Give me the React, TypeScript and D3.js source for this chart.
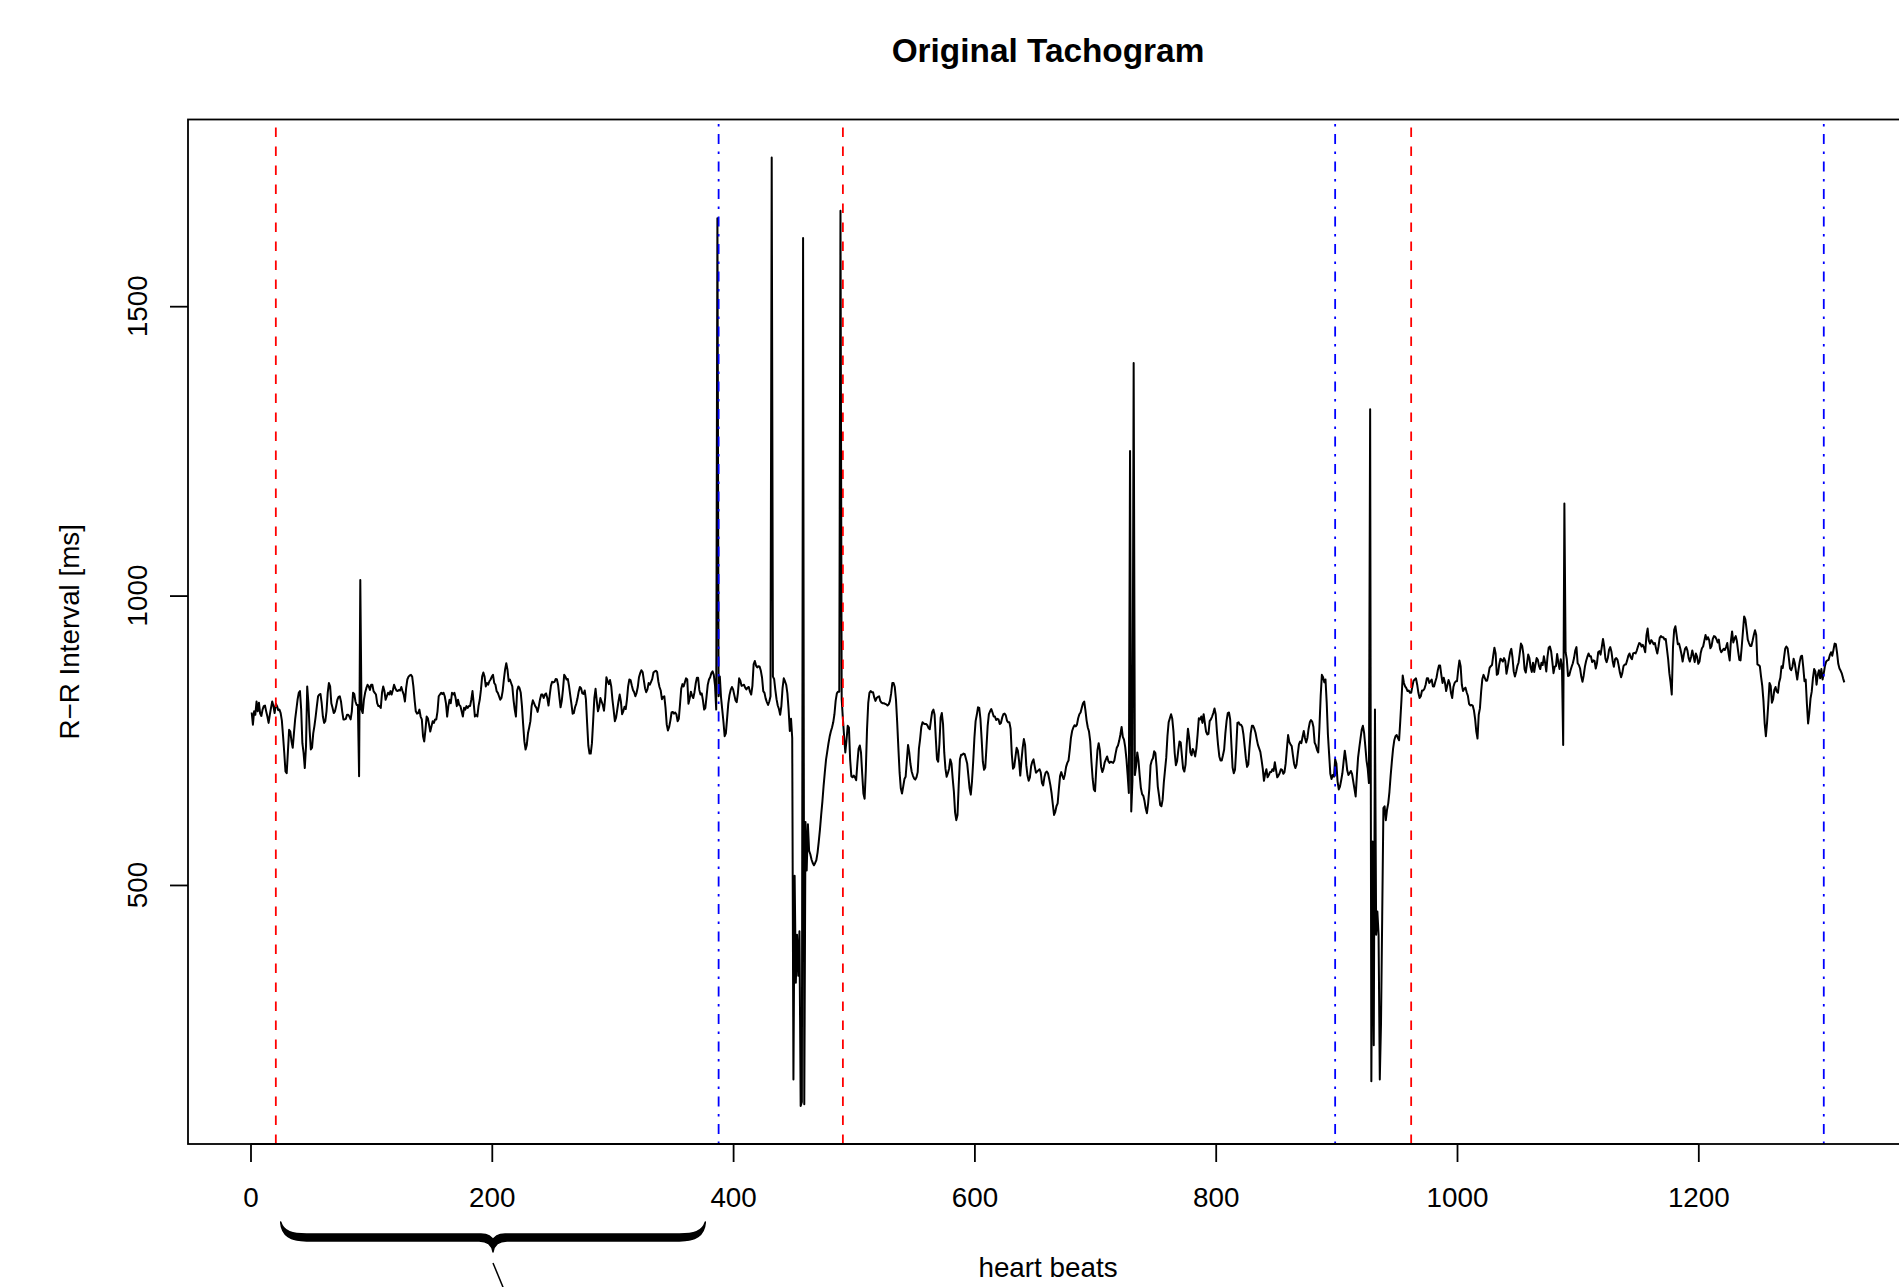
import React, { useEffect, useRef } from "react";
import * as d3 from "d3";

// R-R intervals [ms], one value per heart beat
const rrSeg1 = [
  798, 777, 800, 794, 817, 800, 815, 796, 792, 803,
  809, 810, 800, 791, 780, 794, 806, 817, 809, 797,
  813, 809, 802, 803, 797, 784, 757, 728, 696, 693,
  730, 768, 765, 748, 737, 762, 786, 803, 820, 832,
  835, 803, 745, 728, 702, 739, 843, 814, 768, 734,
  737, 762, 775, 791, 809, 826, 829, 830, 814, 791,
  780, 783, 800, 832, 849, 843, 814, 806, 797, 800,
  809, 820, 825, 826, 817, 800, 786, 786, 787, 794,
  794, 791, 786, 800, 832, 830, 817, 811, 811, 688,
  1027, 803, 797, 820, 832, 840, 846, 843, 837, 846,
  846, 835, 832, 829, 814, 809, 809, 806, 832, 843,
  835, 820, 826, 832, 829, 835, 829, 837, 846, 840,
  836, 835, 837, 836, 842, 835, 829, 817, 840, 855,
  860, 862, 863, 860, 843, 820, 800, 796, 797, 803,
  791, 786, 757, 748, 768, 791, 788, 777, 765, 774,
  783, 780, 786, 786, 800, 826, 829, 832, 830, 832,
  826, 814, 791, 809, 820, 814, 832, 829, 832, 823,
  809, 820, 811, 809, 800, 791, 806, 803, 809, 806,
  809, 809, 820, 835, 814, 791, 794, 791, 809, 820,
  837, 860, 867, 860, 843, 849, 846, 852, 855, 860,
  863, 849, 846, 835, 832, 826, 820, 823, 835, 855,
  872, 883, 872, 852, 855, 849, 843, 820, 803, 791,
];

const rrSeg2 = [
  836, 843, 840, 832, 809, 777, 748, 734, 742, 762,
  772, 783, 809, 819, 814, 809, 806, 799, 809, 821,
  829, 829, 823, 829, 831, 823, 810, 828, 844, 851,
  850, 851, 856, 855, 845, 825, 807, 818, 838, 863,
  860, 855, 856, 844, 828, 813, 796, 797, 807, 813,
  822, 834, 842, 840, 831, 830, 836, 821, 780, 741,
  727, 727, 745, 783, 823, 839, 818, 800, 808, 823,
  817, 811, 801, 824, 859, 852, 847, 854, 843, 820,
  802, 783, 789, 803, 817, 829, 817, 795, 800, 808,
  804, 820, 843, 855, 854, 845, 837, 833, 826, 832,
  842, 859, 866, 871, 868, 854, 840, 833, 838, 849,
  846, 851, 856, 867, 869, 870, 868, 852, 842, 836,
  821, 825, 826, 806, 777, 767, 773, 784, 798, 799,
  796, 798, 795, 783, 787, 812, 839, 847, 843, 850,
  857, 855, 813, 822, 834, 827, 823, 833, 848, 858,
  858, 837, 829, 831, 819, 803, 806, 826, 846, 855,
  859, 866, 869, 863, 845, 803, 1652, 826, 860, 824,
  803, 782, 757, 762, 787, 813, 828, 837, 842, 838,
  828, 819, 816, 832, 857, 853, 844, 845, 846, 841,
  838, 841, 842, 834, 829, 844, 881, 887, 879, 876,
  878, 877, 870, 858, 835, 832, 822, 816, 811, 817,
  826, 1757, 860, 856, 837, 821, 810, 804, 794, 809,
  840, 857, 852,
];

const rrSeg3 = [
  846, 831, 803, 766, 787, 754, 164,
  516, 331, 414, 343, 420, 118, 125, 1618, 121, 609,
  525, 605, 559, 553, 544, 538, 534, 538, 543, 556,
  575, 596, 621, 644, 671, 694, 716, 730, 744, 756,
  765, 772, 781, 795, 818, 831, 834, 834, 1665, 821,
  787, 757, 729, 750, 775, 772, 717, 688, 686, 689,
  686, 681, 710, 735, 741, 729, 692, 658, 649, 698,
  769, 814, 832, 835, 833, 833, 824, 818, 823, 825,
  826, 818, 815, 814, 814, 813, 812, 810, 812, 818,
  831, 849, 849, 842, 820, 781, 736, 694, 667, 658,
  670, 683, 687, 715, 742, 729, 709, 696, 689, 684,
  682, 686, 695, 735, 752, 773, 781, 779, 778, 778,
  776, 771, 769, 785, 799, 803, 794, 754, 717, 713,
  744, 789, 797, 778, 729, 701, 687, 693, 701, 717,
  710, 684, 661, 625, 612, 621, 673, 717, 725, 725,
  727, 726, 718, 710, 689, 667, 656, 679, 713, 754,
  783, 794, 807, 806, 787, 752, 713, 699, 703, 738,
  775, 795, 800, 804, 798, 791, 791, 785, 787, 786,
  778, 780, 789, 795, 796, 793, 784, 781, 781, 770,
  726, 701, 704, 721, 737, 732, 715, 689, 715, 737,
  752, 742, 707, 689, 680, 686, 705, 713, 717, 705,
  694, 696, 698, 700, 694, 676, 672, 686, 694, 696,
  693, 683, 672, 658, 639, 621,
];

const rrSeg4 = [
  626, 636, 641, 666,
  688, 695, 688, 683, 691, 704, 711, 715, 733, 754,
  766, 772, 776, 774, 777, 788, 795, 798, 806, 814,
  817, 802, 784, 772, 765, 748, 713, 684, 665, 662,
  701, 733, 745, 733, 704, 695, 701, 712, 717, 722,
  714, 711, 713, 712, 711, 715, 727, 737, 741, 749,
  760, 773, 756, 751, 738, 718, 690, 659, 1250, 627,
  680, 1402, 690, 705, 729, 715, 689, 667, 657, 654,
  645, 632, 624, 641, 667, 707, 715, 719, 731, 728,
  704, 670, 655, 638, 636, 647, 677, 699, 720, 757,
  781, 788, 795, 787, 765, 728, 707, 714, 733, 748,
  746, 723, 701, 696, 708, 743, 770, 754, 729, 724,
  735, 730, 722, 736, 760, 788, 786, 791, 780, 795,
  780, 765, 760, 761, 783, 786, 791, 797, 805, 795,
  765, 741, 722, 715, 715, 724, 734, 762, 783, 797,
  798, 786, 743, 703, 693, 699, 735, 780, 781, 777,
  777, 773, 760, 740, 719, 704, 708, 737, 762, 775,
  775, 770, 763, 752, 742, 736, 730, 716, 701, 680,
  692, 700, 686, 690, 695, 695, 700, 697, 712, 699,
  686, 689, 693, 700, 699, 692, 695, 710, 735, 759,
  747, 743, 740, 724, 709, 702, 708, 726, 743, 748,
  745, 756, 766, 754, 746, 754, 770, 781, 785, 782,
  773, 746, 741, 733, 729, 774, 826, 863, 859, 850,
];

const rrSeg5 = [
  855, 815, 760, 726, 692, 683, 690, 687, 717, 710,
  679, 665, 670, 681, 693, 713, 732, 717, 698, 690,
  693, 697, 692, 679, 666, 653, 689, 720, 737, 753,
  768, 775, 763, 740, 715, 701, 676,
  1322, 161, 575, 223, 803, 414, 454, 414, 164, 260, 445, 633,
  636, 612, 630, 641, 661, 689, 713, 735, 750, 757,
  759, 754, 750, 784, 821, 862, 849, 843, 840, 835,
  836, 832, 832, 843, 853, 855, 857, 846, 832, 823,
  826, 836, 836, 839, 846, 857, 857, 849, 852, 855,
  843, 843, 851, 858, 870, 879, 879, 863, 849, 858,
  850, 835, 845, 854, 848, 832, 823, 842, 849, 852,
  852, 872, 888, 878, 846, 835, 839, 841, 833, 827,
  813, 810, 811, 810, 802, 787, 765, 753, 794, 805,
  834, 856, 863, 858, 853, 853, 863, 875, 878, 880,
  896, 910, 900, 863, 865, 881, 891, 889, 886, 892,
  887, 865, 876, 889, 902, 908, 893, 869, 860, 868,
  878, 884, 900, 917, 913, 899, 873, 867, 882, 898,
  892, 876, 868, 884, 868, 881, 892, 889, 878, 873,
  884, 880, 895, 884, 869, 894, 910, 912, 904, 886,
  866, 877, 878, 899, 884, 873, 890, 877,
  742, 1159,
  902, 890, 861, 862, 870, 877, 883, 892, 905, 911,
  883, 880, 874, 860, 851, 862, 877, 887, 894, 900,
  895, 895, 885, 888, 887,
];

const rrSeg6 = [
  874, 883, 902, 904, 898, 911,
  925, 912, 891, 885, 892, 906, 911, 903, 887, 877,
  890, 892, 889, 879, 867, 859, 866, 878, 881, 881,
  888, 896, 900, 893, 890, 900, 901, 900, 905, 912,
  918, 917, 912, 915, 910, 902, 931, 943, 922, 917,
  923, 920, 916, 918, 908, 900, 912, 927, 930, 928,
  928, 924, 925, 908, 890, 866, 850, 829, 910, 941,
  947, 932, 916, 917, 909, 899, 886, 898, 908, 911,
  905, 892, 886, 894, 905, 896, 885, 900, 894, 882,
  886, 901, 909, 912, 922, 932, 924, 928, 923, 909,
  913, 925, 930, 929, 925, 919, 924, 908, 902, 905,
  908, 906, 911, 918, 901, 888, 921, 938, 919, 926,
  930, 921, 904, 889, 888, 912, 938, 964, 959, 942,
  924, 918, 913, 913, 922, 932, 940, 932, 881, 880,
  878, 860, 844, 818, 779, 757, 781, 813, 849, 844,
  815, 821, 837, 842, 834, 832, 850, 858, 878, 875,
  892, 908, 912, 909, 893, 874, 871, 877, 891, 883,
  868, 855, 871, 885, 895, 896, 876, 852, 855, 813,
  779, 797, 822, 834, 857, 873, 869, 846, 863, 871,
  857, 873, 855, 866, 879, 886, 888, 889, 897, 902,
  896, 906, 917, 916, 901, 882, 874, 870, 865, 857, 850,
];

const rr = [...rrSeg1, ...rrSeg2, ...rrSeg3, ...rrSeg4, ...rrSeg5, ...rrSeg6];

const xTicks = [0, 200, 400, 600, 800, 1000, 1200];
const yTicks = [500, 1000, 1500];
// window borders (heart beat index)
const redLines = [21, 491, 962];
const blueLines = [388, 899, 1304];
// annotation brace under the x axis (heart beat range)
const braceRange = [25, 377];

export default function App() {
  const svgRef = useRef<SVGSVGElement | null>(null);

  useEffect(() => {
    document.body.style.margin = "0";
    const svg = d3.select(svgRef.current);
    svg.selectAll("*").remove();

    const width = 1899;
    const height = 1287;
    const plot = { left: 188, right: 1908, top: 119.5, bottom: 1144 };
    const font = "'Liberation Sans', Arial, Helvetica, sans-serif";
    const fs = 27.8;
    const lw = 1.8;

    svg.attr("width", width).attr("height", height);

    // R style ranges: data range extended by 4% on each side
    const n = rr.length;
    const padX = (n - 1) * 0.04;
    const x = d3.scaleLinear().domain([1 - padX, n + padX]).range([plot.left, plot.right]);
    const [lo, hi] = d3.extent(rr) as [number, number];
    const padY = (hi - lo) * 0.04;
    const y = d3.scaleLinear().domain([lo - padY, hi + padY]).range([plot.bottom, plot.top]);

    //tachogram line
    svg.append("path")
      .datum(rr)
      .attr("fill", "none")
      .attr("stroke", "#000")
      .attr("stroke-width", 2)
      .attr("stroke-linejoin", "round")
      .attr("d", d3.line<number>().x((d, i) => x(i + 1)).y((d) => y(d)));

    //vertical window lines
    svg.selectAll(".red")
      .data(redLines)
      .enter()
      .append("line")
      .attr("x1", (d) => x(d)).attr("x2", (d) => x(d))
      .attr("y1", plot.bottom).attr("y2", plot.top)
      .attr("stroke", "#ff0000")
      .attr("stroke-width", lw)
      .attr("stroke-dasharray", "9.5 9.5");

    svg.selectAll(".blue")
      .data(blueLines)
      .enter()
      .append("line")
      .attr("x1", (d) => x(d)).attr("x2", (d) => x(d))
      .attr("y1", plot.bottom).attr("y2", plot.top)
      .attr("stroke", "#0000ff")
      .attr("stroke-width", lw)
      .attr("stroke-dasharray", "2.5 7.5 10 7.5");

    //plot box
    svg.append("rect")
      .attr("x", plot.left).attr("y", plot.top)
      .attr("width", plot.right - plot.left).attr("height", plot.bottom - plot.top)
      .attr("fill", "none").attr("stroke", "#000").attr("stroke-width", lw);

    //x axis
    const gx = svg.append("g")
      .attr("transform", `translate(0, ${plot.bottom})`)
      .call(d3.axisBottom(x).tickValues(xTicks).tickSize(18).tickPadding(25.3).tickFormat(d3.format("d")));
    gx.select(".domain").remove();
    gx.selectAll("line").attr("stroke-width", lw);
    gx.selectAll("text").attr("font-size", fs).attr("font-family", font).attr("fill", "#000");
    gx.append("line")
      .attr("x1", x(xTicks[0])).attr("x2", x(xTicks[xTicks.length - 1]))
      .attr("stroke", "#000").attr("stroke-width", lw);

    //y axis, labels parallel to the axis
    const gy = svg.append("g")
      .attr("transform", `translate(${plot.left},0)`)
      .call(d3.axisLeft(y).tickValues(yTicks).tickSize(18).tickFormat(() => ""));
    gy.select(".domain").remove();
    gy.selectAll("line").attr("stroke-width", lw);

    svg.selectAll(".ylab")
      .data(yTicks)
      .enter()
      .append("text")
      .attr("transform", (d) => `translate(147, ${y(d)}) rotate(-90)`)
      .attr("text-anchor", "middle")
      .attr("font-family", font)
      .attr("font-size", fs)
      .text((d) => d);

    //title
    svg.append("text")
      .attr("x", (plot.left + plot.right) / 2)
      .attr("y", 61.5)
      .attr("text-anchor", "middle")
      .attr("font-family", font)
      .attr("font-weight", "bold")
      .attr("font-size", fs * 1.2)
      .text("Original Tachogram");

    //x label
    svg.append("text")
      .attr("x", (plot.left + plot.right) / 2)
      .attr("y", 1277)
      .attr("text-anchor", "middle")
      .attr("font-family", font)
      .attr("font-size", fs)
      .text("heart beats");

    //y label
    svg.append("text")
      .attr("transform", `translate(79, ${(plot.top + plot.bottom) / 2}) rotate(-90)`)
      .attr("text-anchor", "middle")
      .attr("font-family", font)
      .attr("font-size", fs)
      .text("R\u2212R Interval [ms]");

    //brace annotation
    const b0 = x(braceRange[0]);
    const b1 = x(braceRange[1]);
    const bm = (b0 + b1) / 2;
    const bracePath = [
      `M${b0},1222`,
      `C${b0 + 1},1236 ${b0 + 10},1241 ${b0 + 26},1241`,
      `L${bm - 14},1241`,
      `C${bm - 6},1241 ${bm - 1},1245 ${bm},1252`,
      `C${bm + 1},1245 ${bm + 6},1241 ${bm + 14},1241`,
      `L${b1 - 26},1241`,
      `C${b1 - 10},1241 ${b1 - 1},1236 ${b1},1222`,
      `C${b1 - 3},1232 ${b1 - 12},1234 ${b1 - 26},1234`,
      `L${bm + 12},1234`,
      `C${bm + 4},1234 ${bm + 1},1237 ${bm},1241`,
      `C${bm - 1},1237 ${bm - 4},1234 ${bm - 12},1234`,
      `L${b0 + 26},1234`,
      `C${b0 + 12},1234 ${b0 + 3},1232 ${b0},1222`,
      "Z",
    ].join(" ");
    svg.append("path")
      .attr("d", bracePath)
      .attr("fill", "#000")
      .attr("stroke", "#000")
      .attr("stroke-width", 1.5)
      .attr("stroke-linejoin", "round");

    svg.append("line")
      .attr("x1", bm).attr("y1", 1263)
      .attr("x2", bm + 12).attr("y2", 1292)
      .attr("stroke", "#000").attr("stroke-width", 1.5);
  }, []);

  return (
    <div>
      <svg ref={svgRef} style={{ display: "block" }}></svg>
    </div>
  );
}
